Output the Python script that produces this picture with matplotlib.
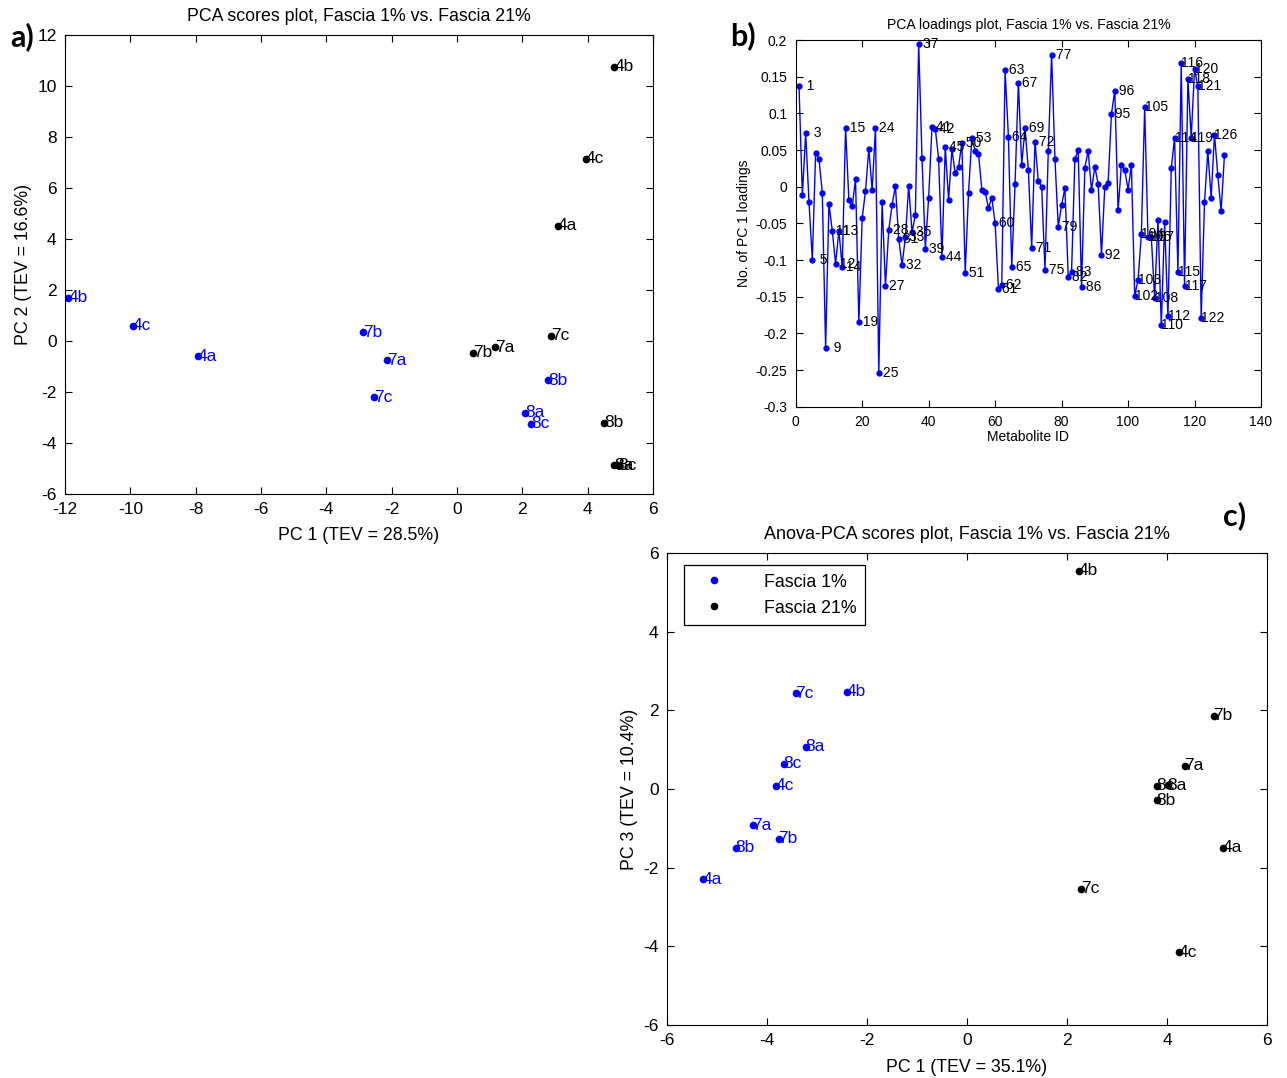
import numpy as np
import matplotlib
matplotlib.use('Agg')
import matplotlib.pyplot as plt

plt.rcParams['font.family'] = ['Liberation Sans', 'DejaVu Sans']
plt.rcParams['axes.unicode_minus'] = False

# panel a: PCA scores (PC1 vs PC2)
names_a1 = ['4b', '4c', '4a', '7b', '7a', '7c', '8b', '8a', '8c']
pc1_a1 = [-11.9, -9.92, -7.93, -2.88, -2.14, -2.54, 2.79, 2.08, 2.27]
pc2_a1 = [1.69, 0.59, -0.59, 0.35, -0.75, -2.2, -1.53, -2.82, -3.25]
names_a21 = ['4b', '4c', '4a', '7c', '7a', '7b', '8b', '8a', '8c']
pc1_a21 = [4.81, 3.95, 3.09, 2.88, 1.16, 0.49, 4.5, 4.81, 4.93]
pc2_a21 = [10.75, 7.14, 4.51, 0.2, -0.24, -0.47, -3.2, -4.88, -4.88]

# panel b: PC1 loadings per metabolite
loadings = [0.137, -0.012, 0.073, -0.021, -0.100, 0.046, 0.038, -0.008, -0.220, -0.023,
            -0.060, -0.105, -0.060, -0.110, 0.080, -0.018, -0.027, 0.010, -0.185, -0.043,
            -0.006, 0.052, -0.005, 0.080, -0.254, -0.021, -0.135, -0.059, -0.025, 0.001,
            -0.071, -0.107, -0.069, 0.001, -0.062, -0.039, 0.195, 0.039, -0.085, -0.015,
            0.081, 0.079, 0.038, -0.096, 0.054, -0.018, 0.051, 0.018, 0.027, 0.060,
            -0.118, -0.008, 0.066, 0.049, 0.045, -0.004, -0.007, -0.029, -0.015, -0.050,
            -0.139, -0.134, 0.159, 0.068, -0.110, 0.004, 0.142, 0.030, 0.080, 0.023,
            -0.083, 0.061, 0.008, 0.000, -0.113, 0.049, 0.180, 0.038, -0.055, -0.025,
            -0.002, -0.123, -0.116, 0.038, 0.050, -0.137, 0.026, 0.049, -0.005, 0.027,
            0.004, -0.093, 0.000, 0.005, 0.099, 0.131, -0.032, 0.030, 0.023, -0.004,
            0.029, -0.149, -0.127, -0.065, 0.108, -0.069, -0.069, -0.152, -0.045, -0.189,
            -0.048, -0.177, 0.025, 0.067, -0.116, 0.168, -0.135, 0.147, 0.067, 0.160,
            0.137, -0.179, -0.021, 0.048, -0.015, 0.071, 0.016, -0.033, 0.043]
labeled_ids = [1, 3, 5, 9, 11, 12, 13, 14, 15, 19, 24, 25, 27, 28, 31, 32, 33, 35, 37, 39,
               41, 42, 44, 45, 50, 51, 53, 60, 61, 62, 63, 64, 65, 67, 69, 71, 72, 75, 77, 79,
               82, 83, 86, 92, 95, 96, 102, 103, 104, 105, 106, 107, 108, 110, 112, 114, 115,
               116, 117, 118, 119, 120, 121, 122, 126]
yticks_b = [-0.3, -0.25, -0.2, -0.15, -0.1, -0.05, 0, 0.05, 0.1, 0.15, 0.2]

# panel c: Anova-PCA scores (PC1 vs PC3)
names_c1 = ['4a', '8b', '7a', '7b', '4c', '8c', '8a', '7c', '4b']
pc1_c1 = [-5.29, -4.63, -4.29, -3.77, -3.83, -3.67, -3.23, -3.43, -2.40]
pc3_c1 = [-2.29, -1.5, -0.92, -1.27, 0.08, 0.64, 1.07, 2.44, 2.47]
names_c21 = ['4b', '7b', '7a', '8c', '8a', '8b', '4a', '7c', '4c']
pc1_c21 = [2.24, 4.93, 4.35, 3.79, 4.01, 3.79, 5.11, 2.28, 4.23]
pc3_c21 = [5.55, 1.86, 0.59, 0.08, 0.1, -0.28, -1.5, -2.54, -4.15]

W, H = 1287, 1078
fig = plt.figure(figsize=(W / 100, H / 100), dpi=100)


def box(l, t, r, b):
    return [l / W, 1 - b / H, (r - l) / W, (b - t) / H]


def matlab_axes(ax, fs):
    ax.tick_params(direction='in', top=True, right=True, length=5, width=0.8,
                   labelsize=fs, pad=6)
    for s in ax.spines.values():
        s.set_linewidth(0.8)


def scatter_labels(ax, xs, ys, names, color, fs):
    ax.plot(xs, ys, 'o', color=color, ms=4.5, ls='none')
    for x, y, n in zip(xs, ys, names):
        ax.text(x, y, n, color=color, fontsize=fs, ha='left', va='center')


blue = (0, 0, 1)

# ---- a)
ax1 = fig.add_axes(box(65, 35, 653, 494))
scatter_labels(ax1, pc1_a1, pc2_a1, names_a1, blue, 12.5)
scatter_labels(ax1, pc1_a21, pc2_a21, names_a21, 'black', 12.5)
ax1.set_xlim(-12, 6)
ax1.set_ylim(-6, 12)
ax1.set_xticks(np.arange(-12, 7, 2))
ax1.set_yticks(np.arange(-6, 13, 2))
matlab_axes(ax1, 12.5)
ax1.set_title('PCA scores plot, Fascia 1% vs. Fascia 21%', fontsize=12.8, pad=10)
ax1.set_xlabel('PC 1 (TEV = 28.5%)', fontsize=12.8, labelpad=7)
ax1.set_ylabel('PC 2 (TEV = 16.6%)', fontsize=12.8, labelpad=4)

# ---- b)
ax2 = fig.add_axes(box(795.7, 40, 1261, 406.7))
ids = np.arange(1, len(loadings) + 1)
ax2.plot(ids, loadings, '-o', color=blue, lw=1, ms=3.5)
for i in labeled_ids:
    ax2.text(i, loadings[i - 1], f'{i:3d}', fontsize=10, ha='left', va='center')
ax2.set_xlim(0, 140)
ax2.set_ylim(-0.3, 0.2)
ax2.set_xticks(np.arange(0, 141, 20))
ax2.set_yticks(yticks_b)
ax2.set_yticklabels(['%g' % v for v in yticks_b])
matlab_axes(ax2, 10)
ax2.set_title('PCA loadings plot, Fascia 1% vs. Fascia 21%', fontsize=10.1, pad=8)
ax2.set_xlabel('Metabolite ID', fontsize=10, labelpad=1)
ax2.set_ylabel('No. of PC 1 loadings', fontsize=10, labelpad=3)

# ---- c)
ax3 = fig.add_axes(box(667, 553, 1267, 1025))
ax3.plot(pc1_c1, pc3_c1, 'o', color=blue, ms=4.5, ls='none', label='Fascia 1%')
ax3.plot(pc1_c21, pc3_c21, 'o', color='black', ms=4.5, ls='none', label='Fascia 21%')
for x, y, n in zip(pc1_c1, pc3_c1, names_c1):
    ax3.text(x, y, n, color=blue, fontsize=12.5, ha='left', va='center')
for x, y, n in zip(pc1_c21, pc3_c21, names_c21):
    ax3.text(x, y, n, color='black', fontsize=12.5, ha='left', va='center')
ax3.set_xlim(-6, 6)
ax3.set_ylim(-6, 6)
ax3.set_xticks(np.arange(-6, 7, 2))
ax3.set_yticks(np.arange(-6, 7, 2))
matlab_axes(ax3, 12.5)
ax3.set_title('Anova-PCA scores plot, Fascia 1% vs. Fascia 21%', fontsize=13, pad=10)
ax3.set_xlabel('PC 1 (TEV = 35.1%)', fontsize=12.8, labelpad=8)
ax3.set_ylabel('PC 3 (TEV = 10.4%)', fontsize=12.8, labelpad=4)
leg = ax3.legend(loc='upper left', bbox_to_anchor=(0.028, 0.975), fontsize=12.8,
                 fancybox=False, edgecolor='black', framealpha=1, handlelength=2.4,
                 handletextpad=1.6, borderpad=0.5, labelspacing=0.5, borderaxespad=0)
leg.get_frame().set_linewidth(0.9)

# panel letters
fig.text(10 / W, 1 - 37 / H, 'a)', fontsize=22, fontweight='bold', family='Lato', va='center')
fig.text(730 / W, 1 - 36 / H, 'b)', fontsize=22, fontweight='bold', family='Lato', va='center')
fig.text(1223 / W, 1 - 516 / H, 'c)', fontsize=22, fontweight='bold', family='Lato', va='center')

fig.savefig('out.png', dpi=100)
